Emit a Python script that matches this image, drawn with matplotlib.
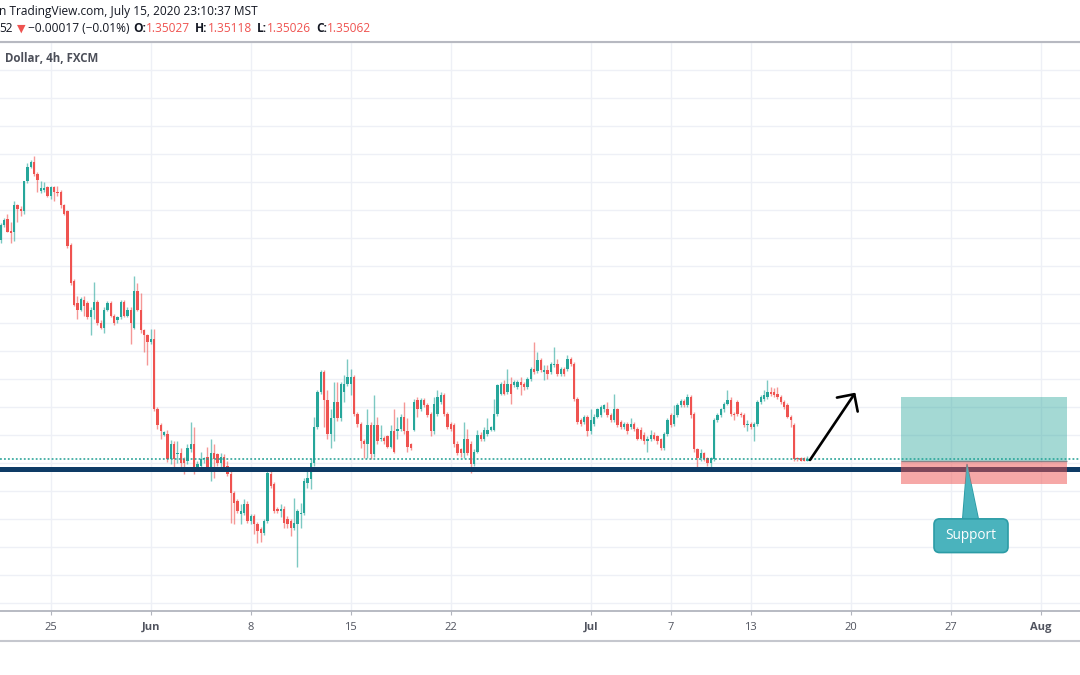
import numpy as np
import matplotlib
matplotlib.use("Agg")
import matplotlib.pyplot as plt
from matplotlib.patches import Rectangle, FancyBboxPatch, Polygon
from matplotlib.lines import Line2D

# USD/CAD 4h candles (FXCM)
opens = [
    1.3897, 1.3923, 1.3934, 1.3913, 1.3911, 1.3959, 1.3953, 1.3948, 1.4003, 1.4027,
    1.4036, 1.4015, 1.3985, 1.3987, 1.3992, 1.3976, 1.3992, 1.3983, 1.3983, 1.3959,
    1.3948, 1.3888, 1.3824, 1.3785, 1.3773, 1.3791, 1.3785, 1.3759, 1.3773, 1.3787,
    1.3750, 1.3741, 1.3773, 1.3785, 1.3762, 1.3754, 1.3759, 1.3787, 1.3762, 1.3773,
    1.3741, 1.3807, 1.3773, 1.3736, 1.3727, 1.3715, 1.3720, 1.3596, 1.3568, 1.3550,
    1.3552, 1.3506, 1.3534, 1.3515, 1.3517, 1.3506, 1.3503, 1.3524, 1.3534, 1.3490,
    1.3494, 1.3506, 1.3511, 1.3490, 1.3517, 1.3515, 1.3499, 1.3511, 1.3494, 1.3480,
    1.3446, 1.3432, 1.3409, 1.3411, 1.3427, 1.3397, 1.3405, 1.3391, 1.3382, 1.3375,
    1.3397, 1.3480, 1.3462, 1.3418, 1.3414, 1.3418, 1.3400, 1.3397, 1.3384, 1.3391,
    1.3409, 1.3411, 1.3464, 1.3471, 1.3499, 1.3564, 1.3626, 1.3662, 1.3612, 1.3552,
    1.3579, 1.3609, 1.3579, 1.3626, 1.3640, 1.3640, 1.3653, 1.3587, 1.3570, 1.3538,
    1.3534, 1.3568, 1.3515, 1.3568, 1.3542, 1.3545, 1.3547, 1.3529, 1.3556, 1.3556,
    1.3561, 1.3582, 1.3556, 1.3533, 1.3559, 1.3612, 1.3596, 1.3612, 1.3603, 1.3587,
    1.3556, 1.3587, 1.3609, 1.3621, 1.3587, 1.3570, 1.3568, 1.3534, 1.3524, 1.3517,
    1.3543, 1.3533, 1.3497, 1.3520, 1.3550, 1.3542, 1.3552, 1.3559, 1.3559, 1.3587,
    1.3623, 1.3640, 1.3626, 1.3640, 1.3639, 1.3635, 1.3644, 1.3640, 1.3635, 1.3649,
    1.3667, 1.3664, 1.3683, 1.3662, 1.3665, 1.3662, 1.3674, 1.3676, 1.3658, 1.3667,
    1.3667, 1.3685, 1.3676, 1.3614, 1.3577, 1.3573, 1.3582, 1.3556, 1.3570, 1.3582,
    1.3586, 1.3595, 1.3595, 1.3586, 1.3577, 1.3595, 1.3573, 1.3564, 1.3570, 1.3564,
    1.3570, 1.3561, 1.3559, 1.3550, 1.3538, 1.3542, 1.3550, 1.3547, 1.3542, 1.3526,
    1.3552, 1.3586, 1.3570, 1.3586, 1.3603, 1.3610, 1.3603, 1.3618, 1.3587, 1.3524,
    1.3508, 1.3517, 1.3508, 1.3499, 1.3506, 1.3577, 1.3586, 1.3595, 1.3605, 1.3612,
    1.3587, 1.3609, 1.3587, 1.3586, 1.3568, 1.3570, 1.3564, 1.3570, 1.3609, 1.3614,
    1.3618, 1.3626, 1.3626, 1.3623, 1.3618, 1.3609, 1.3603, 1.3582, 1.3568, 1.3508,
    1.3508, 1.3508, 1.35027,
]
closes = [
    1.3923, 1.3932, 1.3911, 1.3909, 1.3959, 1.3953, 1.3948, 1.4003, 1.4027, 1.4036,
    1.4015, 1.4004, 1.3989, 1.3990, 1.3976, 1.3992, 1.3983, 1.3981, 1.3959, 1.3944,
    1.3886, 1.3821, 1.3782, 1.3773, 1.3792, 1.3780, 1.3759, 1.3773, 1.3787, 1.3750,
    1.3741, 1.3773, 1.3785, 1.3762, 1.3750, 1.3759, 1.3787, 1.3762, 1.3773, 1.3750,
    1.3807, 1.3773, 1.3736, 1.3727, 1.3715, 1.3720, 1.3596, 1.3568, 1.3556, 1.3554,
    1.3506, 1.3534, 1.3506, 1.3517, 1.3499, 1.3499, 1.3526, 1.3534, 1.3485, 1.3497,
    1.3506, 1.3508, 1.3490, 1.3517, 1.3506, 1.3499, 1.3511, 1.3490, 1.3480, 1.3446,
    1.3428, 1.3414, 1.3414, 1.3427, 1.3397, 1.3405, 1.3391, 1.3379, 1.3375, 1.3397,
    1.3481, 1.3458, 1.3414, 1.3414, 1.3418, 1.3393, 1.3391, 1.3384, 1.3393, 1.3414,
    1.3411, 1.3467, 1.3473, 1.3499, 1.3564, 1.3626, 1.3662, 1.3612, 1.3552, 1.3579,
    1.3609, 1.3579, 1.3640, 1.3640, 1.3653, 1.3653, 1.3587, 1.3570, 1.3538, 1.3533,
    1.3568, 1.3515, 1.3568, 1.3538, 1.3543, 1.3538, 1.3529, 1.3556, 1.3520, 1.3561,
    1.3582, 1.3556, 1.3529, 1.3526, 1.3609, 1.3596, 1.3612, 1.3603, 1.3586, 1.3556,
    1.3605, 1.3618, 1.3621, 1.3587, 1.3564, 1.3561, 1.3533, 1.3517, 1.3517, 1.3543,
    1.3517, 1.3497, 1.3520, 1.3550, 1.3542, 1.3559, 1.3559, 1.3563, 1.3587, 1.3639,
    1.3640, 1.3623, 1.3640, 1.3623, 1.3644, 1.3644, 1.3639, 1.3635, 1.3649, 1.3667,
    1.3662, 1.3683, 1.3665, 1.3665, 1.3658, 1.3676, 1.3676, 1.3658, 1.3667, 1.3658,
    1.3685, 1.3676, 1.3614, 1.3573, 1.3570, 1.3582, 1.3556, 1.3577, 1.3582, 1.3595,
    1.3600, 1.3603, 1.3586, 1.3577, 1.3595, 1.3568, 1.3564, 1.3570, 1.3556, 1.3570,
    1.3561, 1.3543, 1.3543, 1.3538, 1.3543, 1.3550, 1.3543, 1.3538, 1.3526, 1.3552,
    1.3577, 1.3568, 1.3586, 1.3603, 1.3610, 1.3603, 1.3618, 1.3586, 1.3524, 1.3508,
    1.3517, 1.3506, 1.3499, 1.3508, 1.3577, 1.3586, 1.3595, 1.3605, 1.3612, 1.3587,
    1.3586, 1.3587, 1.3586, 1.3568, 1.3570, 1.3564, 1.3570, 1.3609, 1.3618, 1.3621,
    1.3626, 1.3623, 1.3621, 1.3618, 1.3609, 1.3600, 1.3582, 1.3577, 1.3506, 1.3506,
    1.3504, 1.3504, 1.35062,
]
highs = [
    1.3927, 1.3937, 1.3944, 1.3930, 1.3967, 1.3962, 1.3957, 1.4003, 1.4034, 1.4040,
    1.4047, 1.4019, 1.4003, 1.4001, 1.3994, 1.3994, 1.3994, 1.3994, 1.3987, 1.3962,
    1.3950, 1.3891, 1.3827, 1.3797, 1.3796, 1.3797, 1.3789, 1.3777, 1.3823, 1.3791,
    1.3754, 1.3777, 1.3789, 1.3789, 1.3766, 1.3762, 1.3791, 1.3791, 1.3777, 1.3777,
    1.3833, 1.3821, 1.3803, 1.3739, 1.3730, 1.3738, 1.3738, 1.3600, 1.3571, 1.3557,
    1.3559, 1.3541, 1.3538, 1.3538, 1.3526, 1.3510, 1.3534, 1.3573, 1.3564, 1.3503,
    1.3520, 1.3511, 1.3529, 1.3542, 1.3534, 1.3518, 1.3517, 1.3515, 1.3503, 1.3485,
    1.3450, 1.3436, 1.3427, 1.3436, 1.3432, 1.3409, 1.3409, 1.3395, 1.3386, 1.3400,
    1.3485, 1.3485, 1.3466, 1.3421, 1.3427, 1.3423, 1.3405, 1.3400, 1.3437, 1.3418,
    1.3428, 1.3473, 1.3490, 1.3508, 1.3582, 1.3630, 1.3665, 1.3665, 1.3630, 1.3595,
    1.3644, 1.3644, 1.3644, 1.3656, 1.3685, 1.3667, 1.3656, 1.3591, 1.3573, 1.3542,
    1.3596, 1.3573, 1.3621, 1.3582, 1.3568, 1.3548, 1.3550, 1.3568, 1.3595, 1.3582,
    1.3587, 1.3609, 1.3579, 1.3536, 1.3614, 1.3618, 1.3616, 1.3616, 1.3607, 1.3591,
    1.3618, 1.3630, 1.3626, 1.3625, 1.3591, 1.3573, 1.3571, 1.3538, 1.3527, 1.3573,
    1.3561, 1.3538, 1.3524, 1.3559, 1.3554, 1.3563, 1.3579, 1.3566, 1.3614, 1.3640,
    1.3644, 1.3648, 1.3667, 1.3653, 1.3648, 1.3648, 1.3653, 1.3644, 1.3653, 1.3671,
    1.3715, 1.3697, 1.3686, 1.3674, 1.3674, 1.3679, 1.3706, 1.3685, 1.3671, 1.3671,
    1.3692, 1.3688, 1.3679, 1.3618, 1.3580, 1.3586, 1.3586, 1.3595, 1.3587, 1.3598,
    1.3603, 1.3605, 1.3609, 1.3589, 1.3623, 1.3598, 1.3577, 1.3573, 1.3573, 1.3579,
    1.3573, 1.3564, 1.3563, 1.3554, 1.3547, 1.3559, 1.3554, 1.3550, 1.3545, 1.3555,
    1.3580, 1.3589, 1.3603, 1.3607, 1.3614, 1.3614, 1.3623, 1.3621, 1.3591, 1.3527,
    1.3524, 1.3520, 1.3511, 1.3511, 1.3580, 1.3589, 1.3598, 1.3609, 1.3630, 1.3618,
    1.3591, 1.3612, 1.3591, 1.3589, 1.3577, 1.3573, 1.3573, 1.3612, 1.3621, 1.3630,
    1.3648, 1.3635, 1.3633, 1.3635, 1.3621, 1.3612, 1.3607, 1.3586, 1.3571, 1.3511,
    1.3511, 1.3511, 1.35118,
]
lows = [
    1.3891, 1.3920, 1.3911, 1.3891, 1.3895, 1.3930, 1.3939, 1.3944, 1.3999, 1.4026,
    1.4012, 1.3983, 1.3980, 1.3983, 1.3973, 1.3971, 1.3967, 1.3976, 1.3955, 1.3941,
    1.3883, 1.3817, 1.3780, 1.3756, 1.3770, 1.3762, 1.3756, 1.3727, 1.3756, 1.3746,
    1.3738, 1.3732, 1.3770, 1.3759, 1.3746, 1.3750, 1.3756, 1.3759, 1.3759, 1.3711,
    1.3738, 1.3770, 1.3732, 1.3697, 1.3674, 1.3711, 1.3593, 1.3561, 1.3543, 1.3547,
    1.3501, 1.3497, 1.3490, 1.3499, 1.3490, 1.3480, 1.3497, 1.3520, 1.3480, 1.3485,
    1.3490, 1.3499, 1.3487, 1.3467, 1.3473, 1.3494, 1.3490, 1.3487, 1.3476, 1.3393,
    1.3391, 1.3411, 1.3391, 1.3407, 1.3393, 1.3391, 1.3373, 1.3357, 1.3359, 1.3372,
    1.3393, 1.3455, 1.3411, 1.3411, 1.3403, 1.3384, 1.3384, 1.3370, 1.3381, 1.3314,
    1.3384, 1.3407, 1.3455, 1.3453, 1.3495, 1.3561, 1.3623, 1.3564, 1.3542, 1.3526,
    1.3538, 1.3575, 1.3575, 1.3609, 1.3637, 1.3621, 1.3584, 1.3564, 1.3526, 1.3508,
    1.3508, 1.3506, 1.3511, 1.3534, 1.3538, 1.3534, 1.3526, 1.3526, 1.3517, 1.3542,
    1.3557, 1.3552, 1.3520, 1.3522, 1.3556, 1.3582, 1.3593, 1.3600, 1.3582, 1.3547,
    1.3552, 1.3584, 1.3605, 1.3584, 1.3561, 1.3557, 1.3529, 1.3513, 1.3511, 1.3508,
    1.3513, 1.3481, 1.3494, 1.3517, 1.3538, 1.3538, 1.3548, 1.3556, 1.3556, 1.3584,
    1.3621, 1.3621, 1.3623, 1.3605, 1.3635, 1.3632, 1.3621, 1.3630, 1.3632, 1.3646,
    1.3658, 1.3660, 1.3662, 1.3648, 1.3649, 1.3658, 1.3671, 1.3655, 1.3655, 1.3655,
    1.3664, 1.3672, 1.3610, 1.3570, 1.3566, 1.3570, 1.3547, 1.3552, 1.3566, 1.3579,
    1.3582, 1.3591, 1.3582, 1.3573, 1.3573, 1.3564, 1.3561, 1.3561, 1.3552, 1.3561,
    1.3556, 1.3540, 1.3540, 1.3534, 1.3520, 1.3538, 1.3540, 1.3534, 1.3522, 1.3522,
    1.3548, 1.3564, 1.3566, 1.3582, 1.3600, 1.3600, 1.3600, 1.3579, 1.3520, 1.3490,
    1.3504, 1.3503, 1.3494, 1.3490, 1.3503, 1.3573, 1.3582, 1.3591, 1.3603, 1.3584,
    1.3577, 1.3584, 1.3582, 1.3564, 1.3556, 1.3561, 1.3538, 1.3566, 1.3605, 1.3610,
    1.3614, 1.3619, 1.3618, 1.3614, 1.3605, 1.3596, 1.3579, 1.3564, 1.3504, 1.3504,
    1.3503, 1.3503, 1.35026,
]

# time axis (bar index of the first bar of each labelled day)
tick_bars = [15, 45, 75, 105, 135, 177, 201, 225, 255, 285, 312]
tick_labels = ["25", "Jun", "8", "15", "22", "Jul", "7", "13", "20", "27", "Aug"]
month_labels = ["Jun", "Jul", "Aug"]

# drawings
support_level = 1.3489
last_price = 1.35062
entry_price = 1.3503
target_price = 1.3618
stop_price = 1.3463
box_bars = [270, 320]
arrow_from = (242.8, 1.3505)
arrow_to = (256.4, 1.3625)
callout_text = "Support"
callout_bars = [280.0, 302.2]
callout_prices = [1.3340, 1.3400]
callout_tip = (289.9, 1.3497)
callout_base = [288.6, 293.3]

GREEN = "#26a69a"
RED = "#ef5350"
TXT = "#131722"
FONT = ["Open Sans", "DejaVu Sans"]

W, H = 1080, 675
fig = plt.figure(figsize=(W / 100, H / 100), dpi=100)
fig.patch.set_facecolor("white")

def fx(px):
    return px / W

def fy(py):
    return 1 - py / H

ax = fig.add_axes([0, fy(611), 1, fy(42) - fy(611)])
ax.set_facecolor("white")
ax.set_xlim(-0.21, 323.8)
ax.set_ylim(1.32358, 1.42413)

# grid
ax.set_yticks(np.arange(1.325, 1.4251, 0.005))
ax.set_xticks(tick_bars)
ax.set_xticklabels(tick_labels, family=FONT, fontsize=8, color="#50535e")
for lab in ax.get_xticklabels():
    if lab.get_text() in month_labels:
        lab.set_fontweight("bold")
ax.grid(True, color="#eef0f6", lw=1.0, zorder=0)
ax.set_axisbelow(True)
ax.tick_params(axis="y", length=0, labelleft=False)
ax.tick_params(axis="x", length=3, width=0.8, color="#b2b5be", pad=5)
for s in ["left", "right"]:
    ax.spines[s].set_visible(False)
ax.spines["bottom"].set_color("#b2b5be")
ax.spines["bottom"].set_linewidth(1.3)
ax.spines["top"].set_color("#b7b9c1")
ax.spines["top"].set_linewidth(1.5)

# candles
o = np.array(opens)
c = np.array(closes)
hi = np.array(highs)
lo = np.array(lows)
idx = np.arange(len(c))
cols = np.where(c >= o, GREEN, RED)
ax.vlines(idx, lo, hi, colors=cols, lw=1.0, alpha=0.6, zorder=3)
body = np.maximum(np.abs(c - o), 0.00016)
ax.bar(idx, body, bottom=np.minimum(o, c), width=0.7, color=cols, linewidth=0, zorder=4)

# support line and last price line
ax.axhline(support_level, color="#0e3b65", lw=3.6, zorder=5)
ax.axhline(last_price, color="#1e9e92", lw=1.1, ls=(0, (1.2, 1.4)), zorder=5)

# callout pointer (under the position box so it tints)
ax.add_patch(Polygon([(callout_base[0], callout_prices[1] - 0.0002), callout_tip,
                      (callout_base[1], callout_prices[1] - 0.0002)],
                     closed=True, fc="#4ab3bd", ec="none", zorder=6))
ax.plot([callout_base[0], callout_tip[0], callout_base[1]],
        [callout_prices[1], callout_tip[1], callout_prices[1]],
        color="#2c9ca6", lw=1.0, zorder=6)

# long position box
ax.add_patch(Rectangle((box_bars[0], entry_price), box_bars[1] - box_bars[0],
                       target_price - entry_price, fc=GREEN, alpha=0.42, lw=0, zorder=7))
ax.add_patch(Rectangle((box_bars[0], stop_price), box_bars[1] - box_bars[0],
                       entry_price - stop_price, fc=RED, alpha=0.5, lw=0, zorder=7))
ax.hlines(entry_price, box_bars[0], box_bars[1], color="#6f7a80", lw=1.0, alpha=0.8, zorder=8)

# callout box
aspect = (1080 / 324.0) / (569 / (1.42413 - 1.32358))
ax.add_patch(FancyBboxPatch((callout_bars[0], callout_prices[0]),
                            callout_bars[1] - callout_bars[0],
                            callout_prices[1] - callout_prices[0],
                            boxstyle="round,pad=0,rounding_size=1.7",
                            mutation_aspect=aspect, fc="#4ab3bd", ec="#2c9ca6",
                            lw=1.2, zorder=9))
ax.add_patch(Polygon([(callout_base[0] + 0.15, callout_prices[1] + 0.0002), callout_tip,
                      (callout_base[1] - 0.15, callout_prices[1] + 0.0002)],
                     closed=True, fc="#4ab3bd", ec="none", zorder=9.5))
ax.text(sum(callout_bars) / 2, sum(callout_prices) / 2, callout_text, color="white",
        fontsize=9.8, family=FONT, ha="center", va="center", zorder=10)

# arrow
ax.annotate("", xy=arrow_to, xytext=arrow_from,
            arrowprops=dict(arrowstyle="->,head_length=0.9,head_width=0.9",
                            color="black", lw=1.9, shrinkA=0, shrinkB=0), zorder=11)

# header
fig.text(fx(-1), fy(12), "n TradingView.com, July 15, 2020 23:10:37 MST",
         color=TXT, fontsize=8.6, family=FONT, va="center", ha="left")
ax.text(fx(5), fy(58), "Dollar, 4h, FXCM", transform=fig.transFigure,
        color="#4c4f59", fontsize=8.3, fontweight="bold", family=FONT,
        va="center", ha="left", zorder=12)

r = fig.canvas.get_renderer()
pieces = [("52", TXT, "normal", 4), ("\u25bc", RED, "normal", 3),
          ("\u22120.00017 (\u22120.01%)", TXT, "normal", 4),
          ("O:", TXT, "bold", 0), ("1.35027", RED, "normal", 5),
          ("H:", TXT, "bold", 0), ("1.35118", RED, "normal", 5),
          ("L:", TXT, "bold", 0), ("1.35026", RED, "normal", 5),
          ("C:", TXT, "bold", 0), ("1.35062", RED, "normal", 0)]
x = -1
for txt, col, wt, gap in pieces:
    size = 8.0 if txt == "\u25bc" else 8.6
    t = fig.text(fx(x), fy(29), txt, color=col, fontsize=size, fontweight=wt,
                 family=FONT, va="center", ha="left")
    x = t.get_window_extent(r).x1 + gap

# bottom border under the time scale
fig.add_artist(Line2D([0, 1], [fy(641), fy(641)], color="#c5c7ce", lw=1.5))

fig.savefig("out.png", dpi=100, facecolor="white")
